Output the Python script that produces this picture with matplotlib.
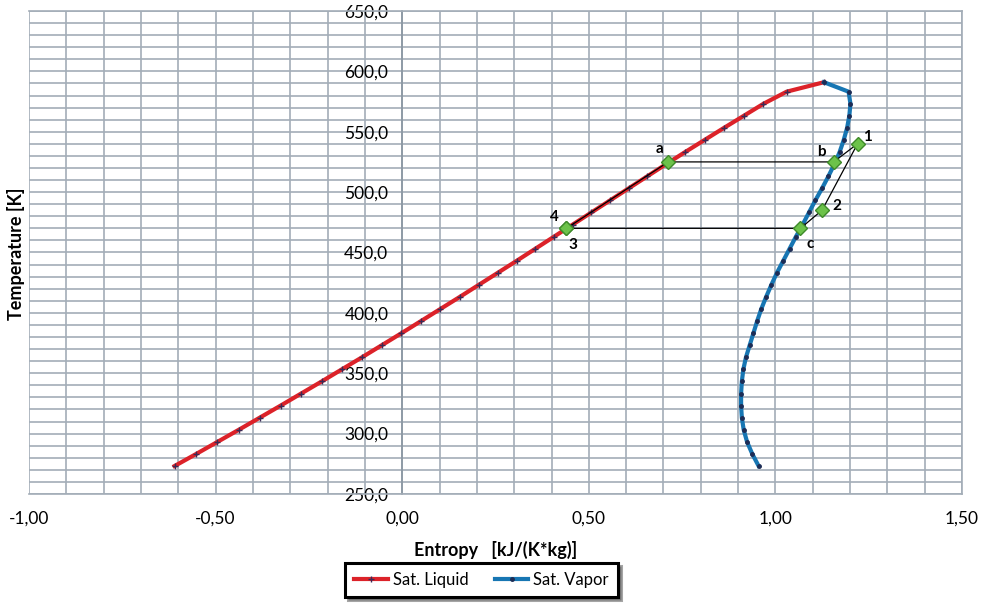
import matplotlib
matplotlib.use("Agg")
from matplotlib import pyplot as plt
from matplotlib.ticker import FuncFormatter, MultipleLocator

plt.rcParams['font.family'] = ['Lato', 'DejaVu Sans']

# saturated liquid line (T in K, s in kJ/(K*kg))
liq_T = [273.15, 283.15, 293.15, 303.15, 313.15, 323.15, 333.15, 343.15, 353.15,
         363.15, 373.15, 383.15, 393.15, 403.15, 413.15, 423.15, 433.15, 443.15,
         453.15, 463.15, 473.15, 483.15, 493.15, 503.15, 513.15, 523.15, 533.15,
         543.15, 553.15, 563.15, 573.15, 583.15, 591.0]
liq_s = [-0.610, -0.552, -0.495, -0.438, -0.382, -0.326, -0.271, -0.216, -0.162,
         -0.108, -0.055, -0.002, 0.050, 0.102, 0.154, 0.205, 0.256, 0.307,
         0.357, 0.407, 0.457, 0.507, 0.557, 0.607, 0.657, 0.707, 0.758,
         0.810, 0.862, 0.915, 0.968, 1.030, 1.130]

# saturated vapor line
vap_T = liq_T
vap_s = [0.955, 0.938, 0.924, 0.915, 0.910, 0.908, 0.908, 0.910, 0.914,
         0.921, 0.931, 0.941, 0.951, 0.962, 0.975, 0.989, 1.004, 1.021,
         1.038, 1.055, 1.073, 1.090, 1.107, 1.125, 1.142, 1.158, 1.172,
         1.183, 1.192, 1.198, 1.201, 1.196, 1.130]

# cycle points 3/4 -> a -> b -> 1 -> 2 -> c -> 3
cyc_s = [0.44, 0.713, 1.156, 1.22, 1.125, 1.067, 0.44]
cyc_T = [470.0, 525.0, 525.0, 540.0, 485.0, 470.0, 470.0]
pt_names = ['a', 'b', '1', '2', 'c', '4', '3']
pt_s = [0.713, 1.156, 1.22, 1.125, 1.067, 0.44, 0.44]
pt_T = [525.0, 525.0, 540.0, 485.0, 470.0, 470.0, 470.0]
pt_off = [(-6, 9), (-9, 7), (7, 5), (11, 3), (7, -11), (-9, 8), (5, -12)]

fig = plt.figure(figsize=(9.87, 6.03), dpi=100)
ax = fig.add_axes([0.0294, 0.1808, 0.9453, 0.801])

grid_c = '#a3adb7'
ax.set_xlim(-1.0, 1.5)
ax.set_ylim(250, 650)
ax.xaxis.set_major_locator(MultipleLocator(0.5))
ax.xaxis.set_minor_locator(MultipleLocator(0.1))
ax.yaxis.set_major_locator(MultipleLocator(50))
ax.yaxis.set_minor_locator(MultipleLocator(10))
ax.grid(which='both', color=grid_c, lw=1.2)
ax.set_axisbelow(True)
for sp in ax.spines.values():
    sp.set_color(grid_c)
    sp.set_linewidth(1.2)
ax.spines['left'].set_position(('data', 0))
ax.spines['left'].set_color('#8a96a2')
ax.tick_params(which='both', length=0, labelsize=12.5, colors='black')
ax.tick_params(axis='y', pad=10)
ax.tick_params(axis='x', pad=12)
ax.xaxis.set_major_formatter(FuncFormatter(lambda v, p: ('%.2f' % v).replace('.', ',')))
ax.yaxis.set_major_formatter(FuncFormatter(lambda v, p: ('%.1f' % v).replace('.', ',')))

ax.plot(liq_s, liq_T, color='#dc2229', lw=3, marker='+', ms=4, mec='#3b2a55', mew=1,
        label='Sat. Liquid', zorder=3)
ax.plot(vap_s, vap_T, color='#1776b3', lw=3, marker='o', ms=2.5, mec='#1d2c55',
        mfc='#1d2c55', label='Sat. Vapor', zorder=3)

ax.plot(cyc_s, cyc_T, color='black', lw=0.9, zorder=4)
ax.plot(pt_s, pt_T, ls='none', marker='D', ms=7, mfc='#6cc24a', mec='#3e8a2a', mew=1, zorder=5)
for name, s, t, off in zip(pt_names, pt_s, pt_T, pt_off):
    ax.annotate(name, (s, t), xytext=off, textcoords='offset points',
                fontsize=11, fontweight='bold', ha='center', va='center', zorder=6)

ax.set_xlabel('Entropy   [kJ/(K*kg)]', fontsize=13, fontweight='bold', labelpad=10)
fig.text(0.016, 0.58, 'Temperature [K]', rotation=90, fontsize=13, fontweight='bold',
         ha='center', va='center')

leg = fig.legend(loc='center', bbox_to_anchor=(0.488, 0.038), ncol=2, fontsize=12,
                 frameon=True, fancybox=False, shadow=True, handlelength=2.0,
                 handletextpad=0.3, columnspacing=1.6, borderpad=0.55)
leg.get_frame().set_edgecolor('black')
leg.get_frame().set_linewidth(2.2)

fig.savefig('out.png', dpi=100)
